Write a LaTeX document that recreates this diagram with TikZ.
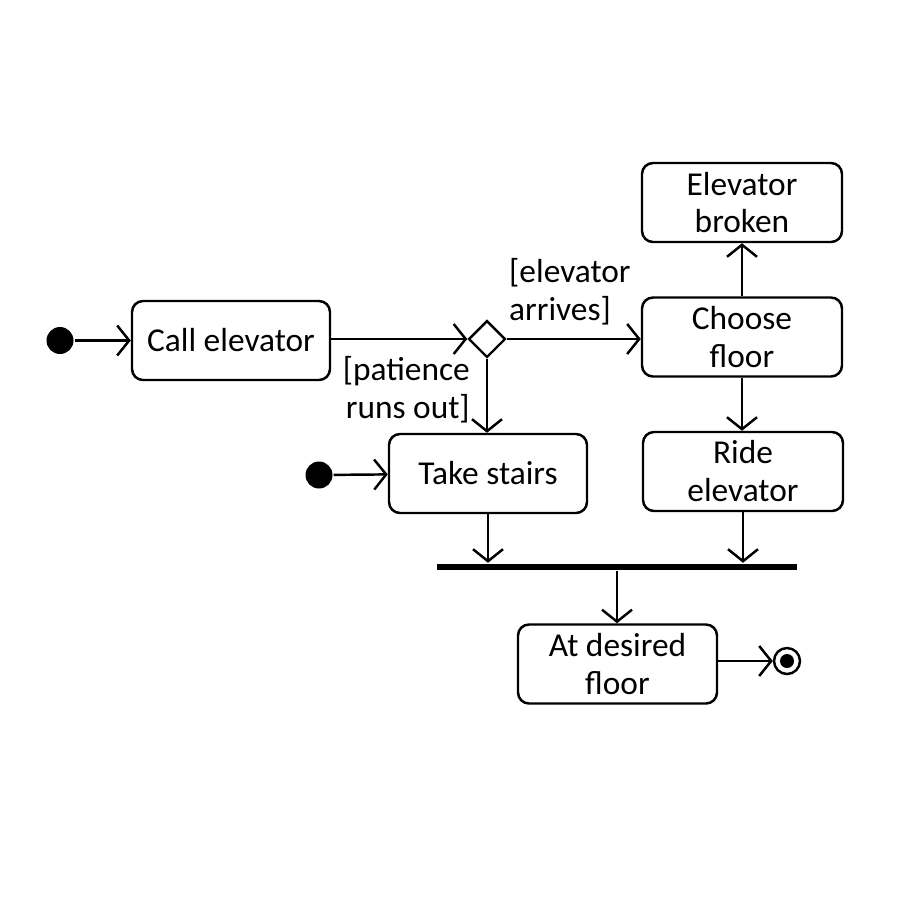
\documentclass[tikz,border=0pt]{standalone}
\usepackage{fontspec}
\setmainfont{Carlito}
\usepackage{tikz}
\usetikzlibrary{arrows.meta,shapes.geometric}

\begin{document}
\begin{tikzpicture}[
    font=\fontsize{9.5}{10.8}\selectfont,
    line width=0.7pt,
    >={Straight Barb[length=1.2mm,width=3mm,line width=0.7pt]},
    activity/.style={draw, rounded corners=1.1mm, minimum width=2mm, minimum height=0.79cm, align=center, inner sep=1pt},
    startdot/.style={circle, fill=black, minimum size=0.27cm, inner sep=0pt},
    enddot/.style={circle, draw, minimum size=0.26cm, inner sep=0pt},
    decision/.style={diamond, draw, minimum width=0.37cm, minimum height=0.37cm, inner sep=0pt},
    guard/.style={align=left, inner sep=0pt}
  ]
      % Page frame
      \useasboundingbox (0,0) rectangle (9,-9);

      % ---------- Activities ----------
      \node[activity, minimum width=1.98cm] (call)    at (2.31,-3.405) {Call elevator};
      \node[activity, minimum width=2.0cm]  (broken)  at (7.42,-2.025) {Elevator\\broken};
      \node[activity, minimum width=2.0cm]  (choose)  at (7.42,-3.37)  {Choose\\floor};
      \node[activity, minimum width=2.0cm]  (ride)    at (7.43,-4.715) {Ride\\elevator};
      \node[activity, minimum width=1.98cm] (stairs)  at (4.88,-4.735) {Take stairs};
      \node[activity, minimum width=1.99cm] (desired) at (6.175,-6.64) {At desired\\floor};

      % ---------- Control nodes ----------
      \node[startdot] (start1) at (0.60,-3.405) {};
      \node[startdot] (start2) at (3.19,-4.75) {};
      \node[decision] (choice) at (4.87,-3.39) {};
      \node[fill=black, minimum width=3.6cm, minimum height=0.06cm, inner sep=0pt] (join) at (6.17,-5.67) {};
      \node[enddot] (final) at (7.87,-6.61) {};
      \fill (final) circle (0.07);

      % ---------- Guards ----------
      \node[guard, anchor=west] (arrives) at (5.08,-2.92) {[elevator\\arrives]};
      \node[guard, anchor=east, align=right] (patience) at (4.71,-3.895) {[patience\\runs out]};

      % ---------- Transitions ----------
      \draw[->] (start1) -- (call);
      \draw[->] (call.east |- choice) -- (choice);
      \draw[->] (choice) -- (choice -| choose.west);
      \draw[->] (choice) -- (choice |- stairs.north);
      \draw[->] (choose) -- (broken);
      \draw[->] (choose.south) -- (choose.south |- ride.north);
      \draw[->] (start2) -- (stairs);
      \draw[->] (stairs) -- (stairs |- join.north);
      \draw[->] (ride) -- (ride |- join.north);
      \draw[->] (join) -- (join |- desired.north);
      \draw[->] (desired.east |- final) -- (final);
    \end{tikzpicture}
\end{document}
